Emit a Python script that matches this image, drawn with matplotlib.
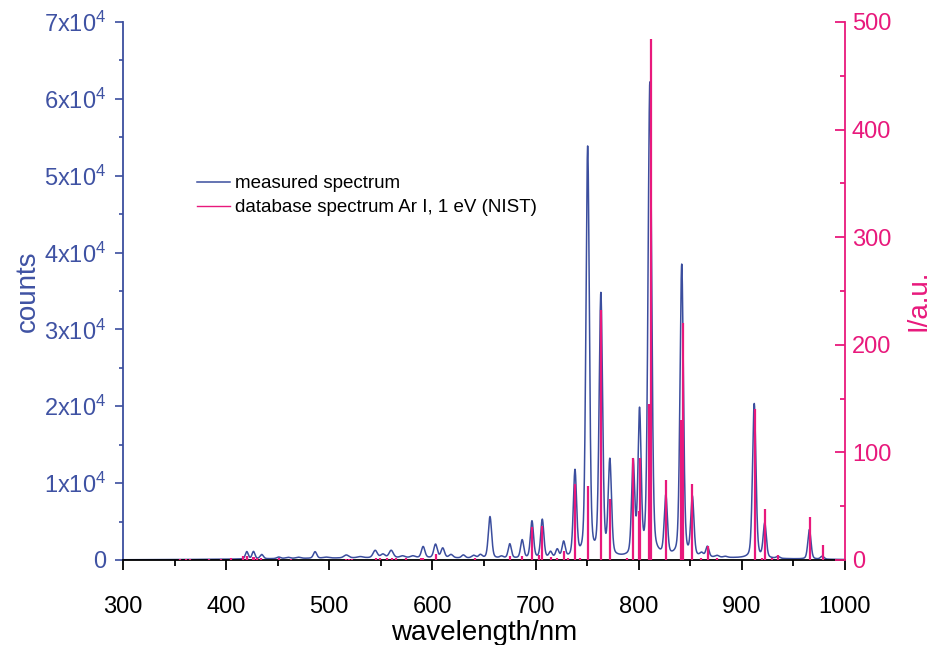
import numpy as np
import matplotlib
matplotlib.use("Agg")
import matplotlib.pyplot as plt
from matplotlib.ticker import MultipleLocator, FixedLocator, FixedFormatter

plt.rcParams['font.family'] = ['Liberation Sans', 'DejaVu Sans']
plt.rcParams['mathtext.fontset'] = 'custom'
plt.rcParams['mathtext.rm'] = 'Liberation Sans'
plt.rcParams['mathtext.it'] = 'Liberation Sans:italic'

BLUE = '#3B4E9E'
BLUE_TXT = '#3F52A3'
PINK = '#E8197C'

# ---------------- data ----------------
# measured spectrum: emission peaks (centre nm, peak counts, FWHM nm)
meas_center = [420.0, 426.5, 434.5, 451.0, 460.0, 470.0, 486.2, 497.0, 516.5, 530.0,
               544.5, 552.0, 560.0, 571.0, 581.0, 591.0, 603.0, 610.0, 618.0, 630.0,
               640.0, 646.5, 655.8, 667.0, 675.0, 687.0, 696.5, 706.5, 714.5, 721.0,
               727.2, 738.2, 750.5, 763.3, 772.0, 794.6, 800.8, 810.8, 826.3, 841.7,
               852.0, 861.0, 866.6, 876.0, 884.0, 912.0, 922.2, 935.0, 965.5, 978.0,
               560.0, 850.0]
meas_height = [950, 950, 550, 200, 150, 150, 850, 120, 380, 150,
               950, 450, 950, 230, 230, 1450, 1750, 1250, 420, 380,
               330, 420, 5400, 230, 1850, 2350, 4800, 5000, 750, 1050,
               2000, 11100, 53300, 34000, 12300, 12100, 18500, 61600, 7700, 38000,
               7600, 450, 1350, 230, 140, 20100, 4450, 230, 3850, 380,
               280, 260]
meas_fwhm = [3.3, 3.3, 3.8, 4.5, 5.5, 5.5, 3.8, 6.5, 5.5, 6.5,
             4.8, 4.8, 4.8, 5.5, 5.5, 4.0, 4.0, 4.0, 4.5, 4.0,
             4.5, 4.0, 3.8, 4.0, 3.6, 3.6, 3.6, 3.6, 3.6, 3.6,
             3.6, 3.7, 3.9, 3.9, 3.8, 3.6, 3.6, 4.1, 3.6, 3.9,
             3.6, 4.0, 3.6, 4.5, 4.5, 3.9, 3.6, 4.0, 3.6, 4.0,
             260.0, 180.0]

# NIST database lines Ar I, 1 eV (nm, relative intensity)
nist_nm = [355.4, 360.7, 364.9, 383.5, 394.9, 404.4, 415.9, 419.8, 420.1, 425.9,
           427.2, 430.0, 433.4, 451.1, 462.8, 516.2, 518.8, 522.1, 545.2, 549.6,
           555.9, 560.7, 565.1, 573.9, 588.9, 591.2, 603.2, 641.6, 675.3, 687.1,
           696.5, 703.0, 706.7, 714.7, 720.7, 727.3, 731.2, 738.4, 743.5, 750.4,
           763.5, 772.4, 788.7, 794.8, 800.6, 801.5, 810.4, 811.5, 826.5, 840.8,
           842.5, 852.1, 860.6, 866.8, 876.0, 912.3, 919.5, 922.4, 929.0, 935.4,
           965.8, 978.5]
nist_int = [1, 1, 1, 1, 1, 1.5, 4, 3, 4, 3,
            3, 2, 1.5, 1.5, 1, 1, 1, 1, 1.5, 2,
            1.5, 2, 1.5, 1.5, 1.5, 2, 5.5, 1.5, 3.5, 3.5,
            31, 4.5, 31.5, 3, 2, 8.7, 2, 70.6, 2, 68.8,
            232, 57, 2, 94.5, 46, 95, 145, 484, 74, 130,
            220, 70.6, 2, 13.3, 2, 140, 2, 47, 1.5, 5,
            39.6, 14.3]

x_ticks = [300, 400, 500, 600, 700, 800, 900, 1000]
y_ticks = [0, 10000, 20000, 30000, 40000, 50000, 60000, 70000]
y_tick_labels = ['0'] + [f'{k}x10$^4$' for k in range(1, 8)]
y2_ticks = [0, 100, 200, 300, 400, 500]

# ---------------- build measured curve from the peak list ----------------
wl = np.linspace(300, 1000, 7001)
counts = np.zeros_like(wl)
eta = 0.3
for c, h, w in zip(meas_center, meas_height, meas_fwhm):
    g = np.exp(-4 * np.log(2) * ((wl - c) / w) ** 2)
    lor = 1.0 / (1.0 + 4 * ((wl - c) / w) ** 2)
    counts += h * ((1 - eta) * g + eta * lor)

# ---------------- figure ----------------
fig = plt.figure(figsize=(9.33, 6.45), dpi=100)
ax = fig.add_axes([123 / 933, 1 - 560 / 645, (845 - 123) / 933, (560 - 22) / 645])
ax2 = ax.twinx()

l1, = ax.plot(wl, counts, color=BLUE, lw=1.1, label='measured spectrum')
ax2.vlines(nist_nm, 0, nist_int, color=PINK, lw=1.6)
l2, = ax2.plot([], [], color=PINK, lw=1.0, label='database spectrum Ar I, 1 eV (NIST)')

ax.set_xlim(300, 1000)
ax.set_ylim(0, 70000)
ax2.set_ylim(0, 500)

ax.xaxis.set_major_locator(FixedLocator(x_ticks))
ax.xaxis.set_minor_locator(MultipleLocator(50))
ax.yaxis.set_major_locator(FixedLocator(y_ticks))
ax.yaxis.set_major_formatter(FixedFormatter(y_tick_labels))
ax.yaxis.set_minor_locator(MultipleLocator(5000))
ax2.yaxis.set_major_locator(FixedLocator(y2_ticks))
ax2.yaxis.set_minor_locator(MultipleLocator(50))

for a in (ax, ax2):
    a.spines['top'].set_visible(False)
ax.spines['right'].set_visible(False)
ax2.spines['left'].set_visible(False)
ax2.spines['bottom'].set_visible(False)
ax.spines['left'].set_color(BLUE)
ax.spines['left'].set_linewidth(1.3)
ax.spines['bottom'].set_color('black')
ax.spines['bottom'].set_linewidth(1.3)
ax2.spines['right'].set_color(PINK)
ax2.spines['right'].set_linewidth(1.3)

ax.tick_params(axis='x', which='major', direction='out', length=7, width=1.3,
               color='black', labelsize=17, pad=19)
ax.tick_params(axis='x', which='minor', direction='out', length=4, width=1.3, color='black')
ax.tick_params(axis='y', which='major', direction='out', length=6, width=1.2,
               color=BLUE, labelcolor=BLUE_TXT, labelsize=17, pad=6)
ax.tick_params(axis='y', which='minor', direction='out', length=3, width=1.2, color=BLUE)
ax2.tick_params(axis='y', which='major', direction='in', length=7, width=1.3,
                color=PINK, labelcolor=PINK, labelsize=17, pad=5)
ax2.tick_params(axis='y', which='minor', direction='in', length=3.5, width=1.3, color=PINK)

ax.set_xlabel('wavelength/nm', fontsize=20)
ax.xaxis.set_label_coords(0.5, -(633 - 560) / 538, transform=ax.transAxes)
ax.xaxis.label.set_va('center')
ax.set_ylabel('counts', fontsize=20, color=BLUE_TXT)
ax.yaxis.set_label_coords(-(123 - 28) / 722, 0.5, transform=ax.transAxes)
ax.yaxis.label.set_va('center')
ax2.set_ylabel('I/a.u.', fontsize=20, color=PINK)
ax2.yaxis.set_label_coords((918 - 123) / 722, (560 - 300) / 538, transform=ax.transAxes)
ax2.yaxis.label.set_va('center')

ax2.legend(handles=[l1, l2], loc='upper left', bbox_to_anchor=(197 / 933, 1 - 175 / 645),
           bbox_transform=fig.transFigure, frameon=False, fontsize=13.5,
           handlelength=1.75, handletextpad=0.3, labelspacing=0.38, borderpad=0,
           borderaxespad=0)

fig.savefig('out.png', dpi=100)
